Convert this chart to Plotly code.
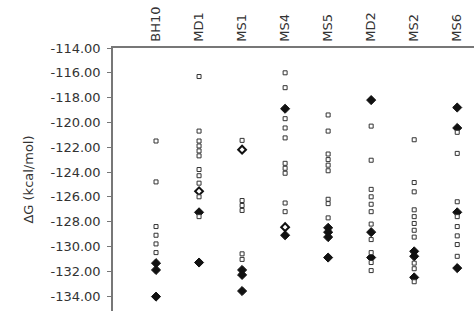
import plotly.graph_objects as go

CATEGORIES = ["BH10", "MD1", "MS1", "MS4", "MS5", "MD2", "MS2", "MS6"]
Y_TICKS = [-114, -116, -118, -120, -122, -124, -126, -128, -130, -132, -134]
Y_TICK_LABELS = ["%.2f" % v for v in Y_TICKS]

# open squares
BH10_SQ = [-121.5, -124.8, -128.4, -129.1, -129.8, -130.5]
MD1_SQ = [-116.3, -120.7, -121.5, -121.9, -122.3, -122.7, -123.8, -124.3, -124.9, -126.0, -127.6]
MS1_SQ = [-121.45, -126.3, -126.7, -127.1, -130.6, -131.05]
MS4_SQ = [-116.0, -117.2, -119.7, -120.45, -121.25, -123.3, -123.7, -124.1, -126.5, -127.2]
MS5_SQ = [-119.4, -120.7, -122.55, -123.0, -123.45, -123.9, -126.2, -126.55, -127.7]
MD2_SQ = [-120.3, -123.05, -125.4, -126.0, -126.6, -127.2, -128.2, -129.45, -130.5, -131.3, -131.95]
MS2_SQ = [-121.4, -124.85, -125.6, -127.05, -127.6, -128.15, -128.7, -129.25, -131.35, -131.8, -132.85]
MS6_SQ = [-120.8, -122.5, -126.4, -127.6, -128.4, -129.15, -129.85, -130.8]

# filled diamonds
BH10_FD = [-131.35, -131.9, -134.05]
MD1_FD = [-127.25, -131.3]
MS1_FD = [-131.9, -132.3, -133.6]
MS4_FD = [-118.9, -129.1]
MS5_FD = [-128.5, -128.85, -129.25, -130.9]
MD2_FD = [-118.2, -128.85, -130.9]
MS2_FD = [-130.4, -130.8, -132.5]
MS6_FD = [-118.8, -120.45, -127.25, -131.75]

# open diamonds
BH10_OD = []
MD1_OD = [-125.55]
MS1_OD = [-122.2]
MS4_OD = [-128.45]
MS5_OD = []
MD2_OD = []
MS2_OD = []
MS6_OD = []

SQ = [BH10_SQ, MD1_SQ, MS1_SQ, MS4_SQ, MS5_SQ, MD2_SQ, MS2_SQ, MS6_SQ]
FD = [BH10_FD, MD1_FD, MS1_FD, MS4_FD, MS5_FD, MD2_FD, MS2_FD, MS6_FD]
OD = [BH10_OD, MD1_OD, MS1_OD, MS4_OD, MS5_OD, MD2_OD, MS2_OD, MS6_OD]


def flatten(groups):
    xs, ys = [], []
    for cat, vals in zip(CATEGORIES, groups):
        for v in vals:
            xs.append(cat)
            ys.append(v)
    return xs, ys


FONT = "DejaVu Sans"
TXT = "#333"
fig = go.Figure()

x, y = flatten(FD)
fig.add_trace(go.Scatter(x=x, y=y, mode="markers",
                         marker=dict(symbol="diamond", size=7, color="#111",
                                     line=dict(color="#111", width=1))))
x, y = flatten(OD)
fig.add_trace(go.Scatter(x=x, y=y, mode="markers",
                         marker=dict(symbol="diamond", size=6, color="white",
                                     line=dict(color="#111", width=2))))
x, y = flatten(SQ)
fig.add_trace(go.Scatter(x=x, y=y, mode="markers",
                         marker=dict(symbol="square", size=4, color="white",
                                     line=dict(color="#333", width=1))))

fig.update_layout(
    width=474, height=311,
    margin=dict(l=113, r=0, t=48, b=0),
    paper_bgcolor="white", plot_bgcolor="white",
    showlegend=False,
    font=dict(family=FONT, size=13, color=TXT),
    xaxis=dict(type="category", categoryorder="array", categoryarray=CATEGORIES,
               side="top", tickangle=-90, range=[-1, 7.39],
               showline=True, linecolor="#777", linewidth=1.5,
               showgrid=False, zeroline=False, ticks="", ticklabelstandoff=2,
               tickfont=dict(family=FONT, size=13, color=TXT)),
    yaxis=dict(range=[-135.21, -114], tickmode="array", tickvals=Y_TICKS,
               ticktext=Y_TICK_LABELS, ticks="outside", ticklen=4,
               tickcolor="#777", showline=True, linecolor="#777", linewidth=1.5,
               showgrid=False, zeroline=False, ticklabelstandoff=4,
               tickfont=dict(family=FONT, size=13, color=TXT),
               title=dict(text="ΔG (kcal/mol)", standoff=14,
                          font=dict(family=FONT, size=13, color=TXT))),
)

fig.write_html("out.html")
